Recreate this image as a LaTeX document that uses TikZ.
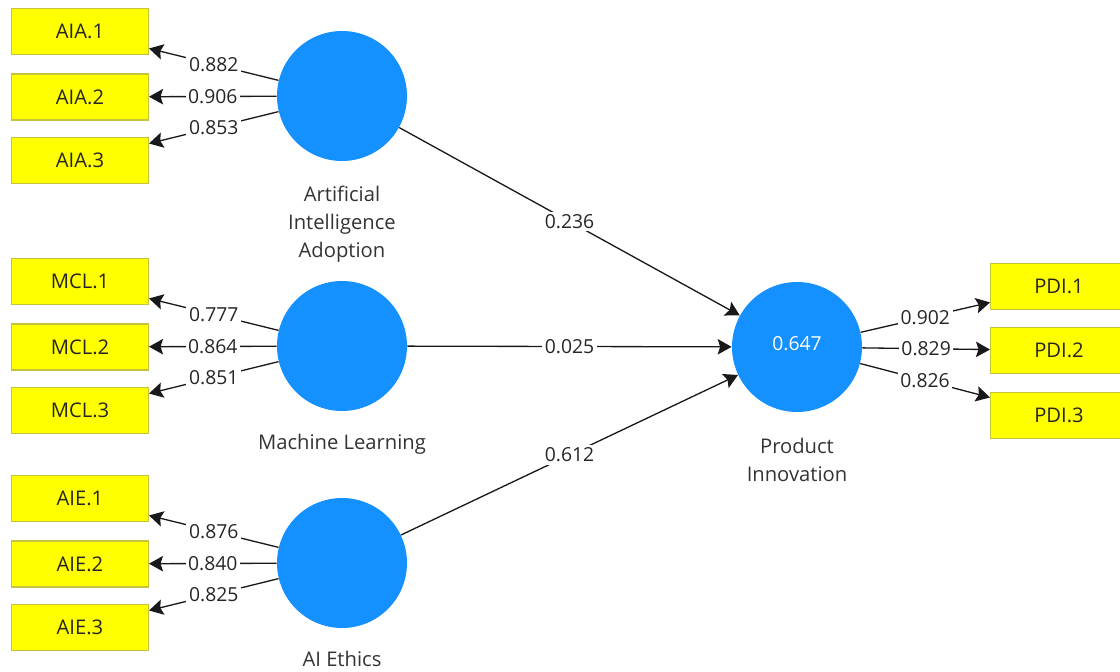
\documentclass[tikz,border=0pt]{standalone}
\usepackage{fontspec}
\setmainfont{Open Sans}
\usetikzlibrary{arrows.meta,positioning}
\definecolor{latentblue}{RGB}{20,144,255}
\definecolor{itemyellow}{RGB}{255,255,0}
\definecolor{itemborder}{RGB}{196,196,60}
\tikzset
{
    latent/.style  = {circle, fill=latentblue, minimum size=2.6cm, inner sep=0pt, text=white, font=\fontsize{11}{13}\selectfont},
    item/.style    = {rectangle, fill=itemyellow, draw=itemborder, line width=0.6pt, minimum width=2.74cm, minimum height=0.92cm, inner sep=0pt, text=black!85, font=\fontsize{11.5}{13}\selectfont},
    caption/.style = {align=center, inner sep=0pt, text=black!80, font=\fontsize{11.5}{16}\selectfont},
    weight/.style  = {fill=white, inner sep=1.5pt, text=black!85, font=\fontsize{11}{13}\selectfont},
    arrow/.style   = {line width=0.75pt, draw=black!90, ->, >={Stealth[length=0.28cm, width=0.31cm, inset=0.05cm]}}
}

\begin{document}
\begin{tikzpicture}[x=0.02cm, y=-0.02cm]
\useasboundingbox (0,0) rectangle (1120,672);
\newcommand\xShift{262}
\newcommand\yShift{64.5}
% latent variables
\node(aia) [latent] at (342, 96) {};
\node(mcl) [latent] at (342, 346) {};
\node(aie) [latent] at (342, 563) {};
\node(pdi) [latent] at (797, 347) {\raisebox{0.15cm}{0.647}};
\node(aiacap) [caption, below=0.48cm of aia] {Artificial\\Intelligence\\Adoption};
\node(mclcap) [caption, below=0.45cm of mcl] {Machine Learning};
\node(aiecap) [caption, below=0.45cm of aie] {AI Ethics};
\node(pdicap) [caption, below=0.5cm of pdi] {Product\\Innovation};
% indicators
\node(aia1) [item] at ([shift=({-\xShift,-\yShift})]aia) {AIA.1};
\node(aia2) [item] at ([shift=({-\xShift,1})]aia) {AIA.2};
\node(aia3) [item] at ([shift=({-\xShift,\yShift})]aia) {AIA.3};
\node(mcl1) [item] at ([shift=({-\xShift,-\yShift})]mcl) {MCL.1};
\node(mcl2) [item] at ([shift=({-\xShift,1})]mcl) {MCL.2};
\node(mcl3) [item] at ([shift=({-\xShift,\yShift})]mcl) {MCL.3};
\node(aie1) [item] at ([shift=({-\xShift,-\yShift})]aie) {AIE.1};
\node(aie2) [item] at ([shift=({-\xShift,1})]aie) {AIE.2};
\node(aie3) [item] at ([shift=({-\xShift,\yShift})]aie) {AIE.3};
\node(pdi1) [item] at ([shift=({\xShift,-60.5})]pdi) {PDI.1};
\node(pdi2) [item] at ([shift=({\xShift,3.5})]pdi) {PDI.2};
\node(pdi3) [item] at ([shift=({\xShift,68.5})]pdi) {PDI.3};
% outer loadings
\draw[arrow] (aia) -- node[weight] (waia1) {0.882} (aia1);
\draw[arrow] (aia) -- node[weight] (waia2) {0.906} (aia2);
\draw[arrow] (aia) -- node[weight] (waia3) {0.853} (aia3);
\draw[arrow] (mcl) -- node[weight] (wmcl1) {0.777} (mcl1);
\draw[arrow] (mcl) -- node[weight] (wmcl2) {0.864} (mcl2);
\draw[arrow] (mcl) -- node[weight] (wmcl3) {0.851} (mcl3);
\draw[arrow] (aie) -- node[weight] (waie1) {0.876} (aie1);
\draw[arrow] (aie) -- node[weight] (waie2) {0.840} (aie2);
\draw[arrow] (aie) -- node[weight] (waie3) {0.825} (aie3);
\draw[arrow] (pdi) -- node[weight] (wpdi1) {0.902} (pdi1);
\draw[arrow] (pdi) -- node[weight] (wpdi2) {0.829} (pdi2);
\draw[arrow] (pdi) -- node[weight] (wpdi3) {0.826} (pdi3);
% path coefficients
\draw[arrow] (aia) -- node[weight] (paia) {0.236} (pdi);
\draw[arrow] (mcl) -- node[weight] (pmcl) {0.025} (pdi);
\draw[arrow] (aie) -- node[weight] (paie) {0.612} (pdi);
\end{tikzpicture}
\end{document}
